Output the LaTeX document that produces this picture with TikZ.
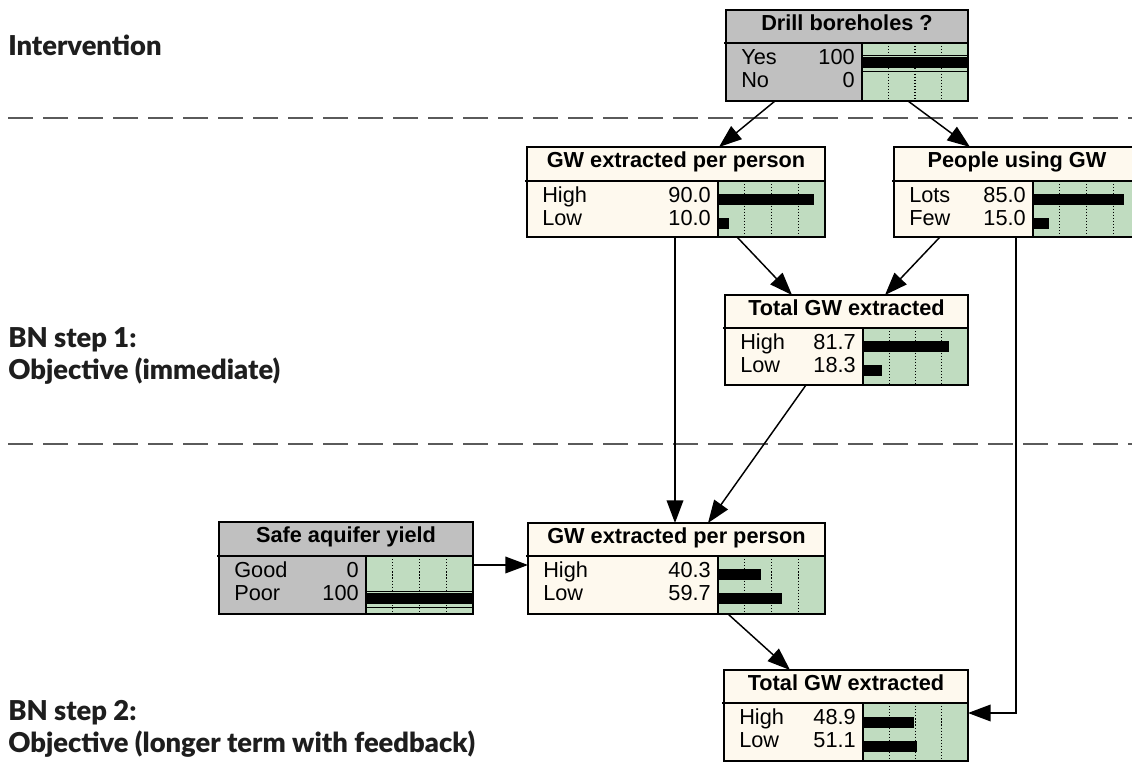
\documentclass[tikz,border=0pt]{standalone}
\usepackage{fontspec}
\setmainfont{Liberation Sans}
\newfontfamily\labfont{Lato}[BoldFont={Lato Black}]
\usetikzlibrary{arrows.meta,calc}
\definecolor{nodegrey}{RGB}{192,192,192}
\definecolor{nodecream}{RGB}{254,249,238}
\definecolor{bargreen}{RGB}{192,220,192}
\definecolor{labtext}{RGB}{30,30,30}
\definecolor{sepgrey}{RGB}{90,90,90}

\newcommand\bnbox[9]{%
  \def\bnL{#2}\def\bnT{#3}\def\bnR{#4}\def\bnS{#5}\def\bnB{#6}\def\bnG{#7}%
  \node[box, fill=#8, minimum width={(#4-#2)*0.75pt}, minimum height={(#6-#3)*0.75pt}, anchor=north west] (#1) at (#2,#3) {};
  \draw[greenarea] (#7,#5) rectangle (#4,#6);
  \foreach \f in {0.25,0.5,0.75}{\draw[gridline] ({#7+\f*(#4-#7)},#5) -- ({#7+\f*(#4-#7)},#6);}
  \draw[septitle] ({#2-2},#5) -- ({#4-3},#5);
  \node[titletxt] at ({(#2+#4)/2},{(#3+#5)/2}) {#9};
  \draw[boxline] (#1.north west) rectangle (#1.south east);
}
\newcommand\bnrow[5]{%
  \node[rowtxt, anchor=mid west] at ({\bnL+15},{\bnS+#1}) {#3};
  \node[rowtxt, anchor=mid east] at ({\bnG-7},{\bnS+#1}) {#4};
  \ifdim #5pt>0pt
    \fill ({\bnG},{\bnS+#2-5.5}) rectangle ({\bnG+0.01*#5*(\bnR-\bnG)},{\bnS+#2+5.5});
  \fi
}
\newcommand\bnfull[1]{%
  \draw[line width=0.7pt] ({\bnG},{\bnS+#1-8}) -- ({\bnR},{\bnS+#1-8});
  \draw[line width=0.7pt] ({\bnG},{\bnS+#1+8}) -- ({\bnR},{\bnS+#1+8});
}

\begin{document}
\begin{tikzpicture}[x=0.75pt,y=-0.75pt,
  box/.style={draw=black, line width=1.3pt, inner sep=0pt, outer sep=0pt},
  boxline/.style={draw=black, line width=1.3pt},
  greenarea/.style={draw=black, line width=1.1pt, fill=bargreen},
  gridline/.style={line width=0.9pt, dash pattern=on 0.9pt off 1.4pt},
  septitle/.style={line width=1.1pt},
  titletxt/.style={font=\fontsize{16.3}{19}\selectfont\bfseries, inner sep=0pt, anchor=mid},
  rowtxt/.style={font=\fontsize{16.3}{19}\selectfont, inner sep=0pt},
  arr/.style={line width=1.1pt, -{Triangle[length=17pt,width=12.5pt]}},
  sepline/.style={draw=sepgrey, line width=1.2pt, dash pattern=on 18.75pt off 7.5pt},
  lab/.style={font=\labfont\bfseries\fontsize{20.5}{25}\selectfont, text=labtext, inner sep=0pt, anchor=base west}]
\useasboundingbox (0,0) rectangle (1132,762);

% layer separators
\draw[sepline] (8,118) -- (1132,118);
\draw[sepline] (8,444) -- (1132,444);

% left labels
\node[lab] (l1) at (8,56) {Intervention};
\node[lab] (l2) at (8,348) {BN step 1:};
\node[lab] (l3) at (8,380) {Objective (immediate)};
\node[lab] (l4) at (8,720) {BN step 2:};
\node[lab] (l5) at (8,752) {Objective (longer term with feedback)};

% nodes
\bnbox{drill}{726}{10}{968}{43}{101}{862}{nodegrey}{Drill boreholes ?}
\bnfull{20}
\bnrow{17.5}{20}{Yes}{100}{100}
\bnrow{40.5}{43}{No}{0}{0}

\bnbox{gwa}{527}{147}{825}{181}{237}{718}{nodecream}{GW extracted per person}
\bnrow{17.5}{19}{High}{90.0}{90.0}
\bnrow{40.5}{43}{Low}{10.0}{10.0}

\bnbox{people}{894}{147}{1140}{181}{237}{1033}{nodecream}{People using GW}
\bnrow{17.5}{19}{Lots}{85.0}{85.0}
\bnrow{40.5}{43}{Few}{15.0}{15.0}

\bnbox{tota}{725}{295}{968}{328}{385}{863}{nodecream}{Total GW extracted}
\bnrow{17.5}{19}{High}{81.7}{81.7}
\bnrow{40.5}{43}{Low}{18.3}{18.3}

\bnbox{safe}{219}{522}{473}{556}{614}{366}{nodegrey}{Safe aquifer yield}
\bnrow{17.5}{19}{Good}{0}{0}
\bnfull{43}
\bnrow{40.5}{43}{Poor}{100}{100}

\bnbox{gwb}{528}{523}{825}{556}{614}{718}{nodecream}{GW extracted per person}
\bnrow{17.5}{19}{High}{40.3}{40.3}
\bnrow{40.5}{43}{Low}{59.7}{59.7}

\bnbox{totb}{724}{670}{968}{703}{761}{863}{nodecream}{Total GW extracted}
\bnrow{17.5}{19}{High}{48.9}{48.9}
\bnrow{40.5}{43}{Low}{51.1}{51.1}

% connectors
\draw[arr] ($(drill.south west)+(49,0)$) -- ($(gwa.north west)+(192,0)$);
\draw[arr] ($(drill.south west)+(182,0)$) -- ($(people.north west)+(76,0)$);
\draw[arr] ($(gwa.south west)+(148,0)$) -- ($(gwb.north west)+(147,0)$);
\draw[arr] ($(gwa.south west)+(210,0)$) -- ($(tota.north west)+(67,0)$);
\draw[arr] ($(people.south west)+(46,0)$) -- ($(tota.north west)+(160,0)$);
\draw[arr] ($(tota.south west)+(81,0)$) -- ($(gwb.north west)+(180,0)$);
\draw[arr] ($(people.south west)+(122,0)$) |- ($(totb.north east)+(0,43)$);
\draw[arr] ($(safe.north east)+(0,43)$) -- ($(gwb.north west)+(0,42)$);
\draw[arr] ($(gwb.south west)+(200,0)$) -- ($(totb.north west)+(66,0)$);
\end{tikzpicture}
\end{document}
